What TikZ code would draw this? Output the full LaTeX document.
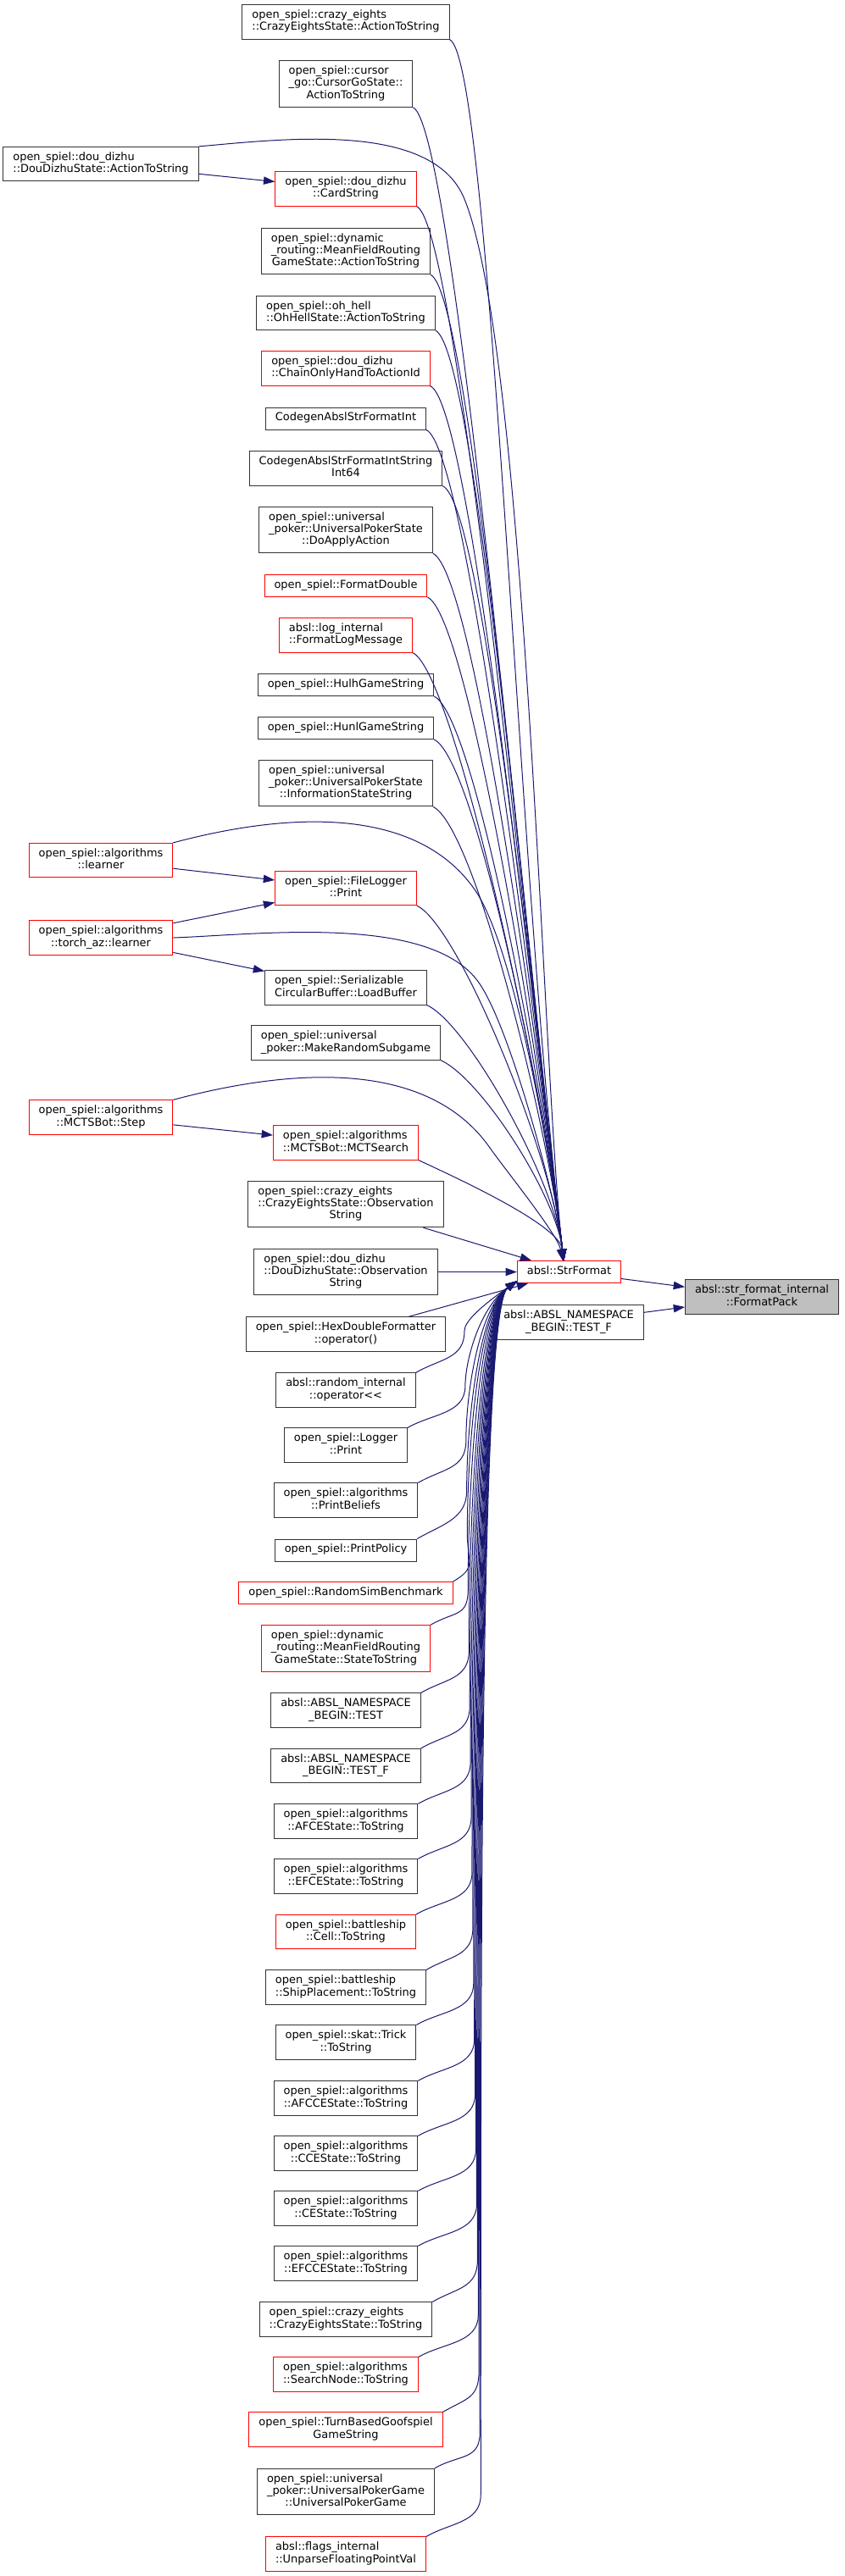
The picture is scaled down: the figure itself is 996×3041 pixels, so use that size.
\documentclass[tikz,border=0pt]{standalone}
\usepackage{fontspec}
\setmainfont{DejaVu Sans}
\usetikzlibrary{arrows.meta}
\definecolor{edgeblue}{HTML}{191970}
\definecolor{rootgray}{HTML}{BFBFBF}
\newcommand{\twoline}[2]{\begin{tabular}{@{}l@{}}#1\\\multicolumn{1}{@{}c@{}}{#2}\end{tabular}}
\newcommand{\threeline}[3]{\begin{tabular}{@{}l@{}}#1\\#2\\\multicolumn{1}{@{}c@{}}{#3}\end{tabular}}
\begin{document}
\begin{tikzpicture}[
  x=0.75pt, y=0.75pt,
  fn/.style={draw=black!80, line width=0.75pt, fill=white, inner xsep=8.6pt, inner ysep=4.4pt,
    font=\fontsize{9.7}{10.7}\selectfont, execute at begin node=\strut},
  fn_red/.style={fn, draw=red},
  fn_root/.style={fn, fill=rootgray},
  call/.style={-{Triangle[length=10pt,width=7pt]}, draw=edgeblue, line width=0.75pt}
]
\useasboundingbox (0,0) rectangle (996,-3041);

% Callers (middle column, documented)
\foreach \i/\y/\t in {
  1/26/\twoline{open\_spiel::crazy\_eights}{::CrazyEightsState::ActionToString},
  2/99/\threeline{open\_spiel::cursor}{\_go::CursorGoState::}{ActionToString},
  4/296.5/\threeline{open\_spiel::dynamic}{\_routing::MeanFieldRouting}{GameState::ActionToString},
  5/369.5/\twoline{open\_spiel::oh\_hell}{::OhHellState::ActionToString},
  7/494/CodegenAbslStrFormatInt,
  8/553/\twoline{CodegenAbslStrFormatIntString}{Int64},
  9/625.5/\threeline{open\_spiel::universal}{\_poker::UniversalPokerState}{::DoApplyAction},
  12/808.5/open\_spiel::HulhGameString,
  13/859.5/open\_spiel::HunlGameString,
  14/924.5/\threeline{open\_spiel::universal}{\_poker::UniversalPokerState}{::InformationStateString},
  16/1166/\twoline{open\_spiel::Serializable}{CircularBuffer::LoadBuffer},
  17/1231/\twoline{open\_spiel::universal}{\_poker::MakeRandomSubgame},
  19/1421.5/\threeline{open\_spiel::crazy\_eights}{::CrazyEightsState::Observation}{String},
  20/1501.5/\threeline{open\_spiel::dou\_dizhu}{::DouDizhuState::Observation}{String},
  21/1575/\twoline{open\_spiel::HexDoubleFormatter}{::operator()},
  22/1641/\twoline{absl::random\_internal}{::operator<{}<},
  23/1706/\twoline{open\_spiel::Logger}{::Print},
  24/1771/\twoline{open\_spiel::algorithms}{::PrintBeliefs},
  25/1830/open\_spiel::PrintPolicy,
  28/2019/\twoline{absl::ABSL\_NAMESPACE}{\_BEGIN::TEST},
  29/2084.5/\twoline{absl::ABSL\_NAMESPACE}{\_BEGIN::TEST\_F},
  30/2150/\twoline{open\_spiel::algorithms}{::AFCEState::ToString},
  31/2215/\twoline{open\_spiel::algorithms}{::EFCEState::ToString},
  33/2346/\twoline{open\_spiel::battleship}{::ShipPlacement::ToString},
  34/2411/\twoline{open\_spiel::skat::Trick}{::ToString},
  35/2477/\twoline{open\_spiel::algorithms}{::AFCCEState::ToString},
  36/2542/\twoline{open\_spiel::algorithms}{::CCEState::ToString},
  37/2607/\twoline{open\_spiel::algorithms}{::CEState::ToString},
  38/2672/\twoline{open\_spiel::algorithms}{::EFCCEState::ToString},
  39/2738/\twoline{open\_spiel::crazy\_eights}{::CrazyEightsState::ToString},
  42/2941.5/\threeline{open\_spiel::universal}{\_poker::UniversalPokerGame}{::UniversalPokerGame}} {
  \node[fn] (c\i) at (408,-\y) {\t};
}

% Callers (middle column, truncated)
\foreach \i/\y/\t in {
  3/223/\twoline{open\_spiel::dou\_dizhu}{::CardString},
  6/435/\twoline{open\_spiel::dou\_dizhu}{::ChainOnlyHandToActionId},
  10/691.5/open\_spiel::FormatDouble,
  11/750/\twoline{absl::log\_internal}{::FormatLogMessage},
  15/1048.5/\twoline{open\_spiel::FileLogger}{::Print},
  18/1349/\twoline{open\_spiel::algorithms}{::MCTSBot::MCTSearch},
  26/1880.5/open\_spiel::RandomSimBenchmark,
  27/1946/\threeline{open\_spiel::dynamic}{\_routing::MeanFieldRouting}{GameState::StateToString},
  32/2280.5/\twoline{open\_spiel::battleship}{::Cell::ToString},
  40/2803/\twoline{open\_spiel::algorithms}{::SearchNode::ToString},
  41/2868/\twoline{open\_spiel::TurnBasedGoofspiel}{GameString},
  43/3015/\twoline{absl::flags\_internal}{::UnparseFloatingPointVal}} {
  \node[fn_red] (c\i) at (408,-\y) {\t};
}

% Left column
\node[fn] (l1) at (119,-193.5) {\twoline{open\_spiel::dou\_dizhu}{::DouDizhuState::ActionToString}};
\node[fn_red] (l2) at (119,-1015.5) {\twoline{open\_spiel::algorithms}{::learner}};
\node[fn_red] (l3) at (119,-1107) {\twoline{open\_spiel::algorithms}{::torch\_az::learner}};
\node[fn_red] (l4) at (119,-1319) {\twoline{open\_spiel::algorithms}{::MCTSBot::Step}};

% Right side
\node[fn_red] (strf) at (671.5,-1501.5) {absl::StrFormat};
\node[fn] (testf) at (671,-1561) {\twoline{absl::ABSL\_NAMESPACE}{\_BEGIN::TEST\_F}};
\node[fn_root] (fpack) at (899,-1531) {\twoline{absl::str\_format\_internal}{::FormatPack}};

% --- Calls into StrFormat ---
% from above: in-handle grows with the vertical gap
\foreach \i/\y in {1/26,2/99,3/223,4/296.5,5/369.5,6/435,7/494,8/553,9/625.5,
  10/691.5,11/750,12/808.5,13/859.5,14/924.5,15/1048.5,16/1166,17/1231,18/1349} {
  \pgfmathsetmacro{\d}{0.225*(1489-\y)}
  \draw[call] (c\i.south east) .. controls +(-25:40pt) and +(97:\d pt) .. (strf.115);
}
\foreach \i in {19,20,21} {
  \draw[call] (c\i) -- (strf);
}
% from below: bend out to the bundle, then up
\foreach \i/\y in {22/1641,23/1706,24/1771,25/1830,26/1880.5,27/1946,28/2019,29/2084.5,
  30/2150,31/2215,32/2280.5,33/2346,34/2411,35/2477,36/2542,37/2607,38/2672,
  39/2738,40/2803,41/2868,42/2941.5,43/3015} {
  \pgfmathsetmacro{\wx}{548+0.014*(\y-1641)}
  \pgfmathsetmacro{\wy}{-\y+70}
  \pgfmathsetmacro{\d}{max(8,0.34*(\y-1640))}
  \draw[call] (c\i.north east) .. controls +(30:25pt) and +(-90:25pt) .. (\wx,\wy)
    .. controls +(90:\d pt) and +(215:40pt) .. (strf.190);
}

% --- Left callers ---
\draw[call] (l1) -- (c3);
\draw[call] (l2) -- (c15);
\draw[call] (l3) -- (c15);
\draw[call] (l3) -- (c16);
\draw[call] (l4) -- (c18);

% Long arcs over the middle column
\coordinate (w1) at (548,-235);
\coordinate (w2) at (560,-1050);
\coordinate (w3) at (565,-1160);
\coordinate (w4) at (578,-1355);
\draw[call] (l1.north east) .. controls +(5:75pt) and +(112:75pt) .. (w1)
  .. controls +(-68:148pt) and +(97:148pt) .. (strf.115);
\draw[call] (l2.north east) .. controls +(15:95pt) and +(125:95pt) .. (w2)
  .. controls +(-55:66pt) and +(97:66pt) .. (strf.115);
\draw[call] (l3.east) .. controls +(2:75pt) and +(125:75pt) .. (w3)
  .. controls +(-55:50pt) and +(97:50pt) .. (strf.115);
\draw[call] (l4.north east) .. controls +(15:100pt) and +(125:100pt) .. (w4)
  .. controls +(-55:23pt) and +(100:23pt) .. (strf.120);

% --- Into FormatPack ---
\draw[call] (strf) -- (fpack);
\draw[call] (testf) -- (fpack);

\end{tikzpicture}
\end{document}
